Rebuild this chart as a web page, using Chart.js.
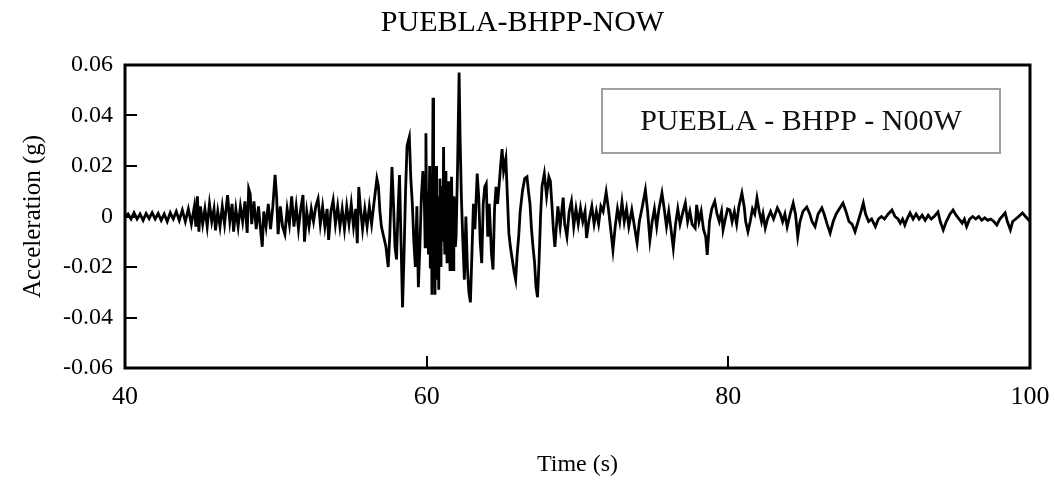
<!DOCTYPE html>
<html>
<head>
<meta charset="utf-8">
<script src="https://cdn.jsdelivr.net/npm/chart.js@4/dist/chart.umd.min.js"></script>
<style>
  html, body { margin: 0; padding: 0; background: #fff; }
  #wrap { width: 1055px; height: 482px; }
</style>
</head>
<body>
<div id="wrap"><canvas id="chart" width="1055" height="482"></canvas></div>
<script>
// record, [time (s), acceleration (g)]
const preEvent = [
  [40.0, 0], [40.2, 0.001], [40.4, -0.001], [40.6, 0.0015], [40.8, -0.001], [41.0, 0.001],
  [41.2, -0.0015], [41.4, 0.0012], [41.6, -0.0008], [41.8, 0.0015], [42.0, -0.001], [42.2, 0.0012],
  [42.4, -0.0015], [42.6, 0.001], [42.8, -0.002], [43.0, 0.0015], [43.2, -0.001], [43.4, 0.002],
  [43.6, -0.0015], [43.8, 0.0025], [44.0, -0.002], [44.2, 0.003], [44.4, -0.003], [44.6, 0.004],
  [44.7, -0.004], [44.8, 0.008], [44.9, -0.006], [45.0, 0.004], [45.15, -0.003], [45.3, 0.003],
  [45.45, -0.004], [45.6, 0.005], [45.75, -0.002], [45.9, 0.003], [46.0, -0.0055], [46.15, 0.002],
  [46.3, -0.004], [46.45, 0.004], [46.6, -0.003], [46.8, 0.0085], [46.95, -0.002], [47.1, 0.005],
  [47.2, -0.006], [47.35, 0.003], [47.5, -0.004], [47.65, 0.004], [47.8, -0.002], [47.95, 0.006],
  [48.1, -0.0065], [48.2, 0.011], [48.3, 0.009], [48.4, -0.003], [48.55, 0.006], [48.7, -0.005],
  [48.85, 0.004], [49.0, -0.006], [49.1, -0.012], [49.2, 0.002], [49.35, -0.004], [49.5, 0.005],
  [49.65, -0.005], [49.8, 0.004], [49.95, 0.0165], [50.05, 0.008], [50.15, -0.007], [50.3, 0.004],
  [50.45, -0.004], [50.6, -0.007], [50.75, 0.003], [50.9, -0.003], [51.05, 0.008], [51.2, -0.004],
  [51.35, 0.004], [51.5, -0.005], [51.65, 0.003], [51.8, 0.0085], [51.9, -0.010], [52.05, 0.002],
  [52.2, -0.004], [52.35, 0.003], [52.5, -0.002], [52.65, 0.004], [52.8, 0.007], [52.95, -0.003],
  [53.1, 0.004], [53.25, -0.004], [53.4, 0.003], [53.5, -0.0093], [53.65, 0.002], [53.8, 0.0065],
  [53.95, -0.003], [54.1, 0.004], [54.25, -0.004], [54.4, 0.003], [54.55, -0.005], [54.7, 0.004],
  [54.85, -0.003], [55.0, 0.005], [55.15, -0.004], [55.3, 0.003], [55.4, -0.0106], [55.5, 0.0117],
  [55.6, 0.004], [55.75, -0.005], [55.9, 0.003], [56.05, -0.004], [56.2, 0.004], [56.35, -0.003],
  [56.5, 0.005], [56.7, 0.015], [56.8, 0.012], [56.9, 0.002], [57.0, -0.004], [57.15, -0.008],
  [57.3, -0.012]
];

const strongMotion = [
  [57.45, -0.020], [57.55, -0.008], [57.7, 0.0196], [57.8, 0.005], [57.9, -0.012], [58.0, -0.017],
  [58.1, 0.002], [58.2, 0.0164], [58.3, -0.010], [58.4, -0.036], [58.5, -0.015], [58.6, 0.01],
  [58.7, 0.028], [58.85, 0.0315], [58.95, 0.015], [59.05, 0.005], [59.15, -0.010], [59.25, -0.020],
  [59.35, 0.004], [59.45, -0.028], [59.55, -0.012], [59.65, 0.008], [59.75, 0.018], [59.85, 0.005],
  [59.9, -0.012], [59.95, 0.033], [60.0, -0.005], [60.05, 0.010], [60.12, -0.015], [60.2, 0.02],
  [60.24, -0.02], [60.27, -0.010], [60.31, 0.012], [60.35, -0.031], [60.42, 0.047], [60.46, -0.01],
  [60.5, 0.005], [60.55, -0.031], [60.58, 0.0], [60.62, 0.02], [60.66, -0.025], [60.7, -0.018],
  [60.75, 0.008], [60.8, -0.029], [60.84, 0.005], [60.88, 0.015], [60.92, -0.012], [60.95, -0.02],
  [61.0, 0.012], [61.05, 0.01], [61.08, -0.01], [61.12, 0.0275], [61.16, 0.0], [61.2, -0.015],
  [61.24, 0.018], [61.28, 0.008], [61.32, -0.01], [61.35, -0.018], [61.4, 0.006], [61.45, 0.014],
  [61.5, -0.008], [61.55, -0.021], [61.6, 0.004], [61.65, 0.0157], [61.7, -0.006], [61.75, -0.021],
  [61.8, 0.008], [61.85, 0.005], [61.9, -0.012], [61.95, -0.008], [62.05, 0.02], [62.15, 0.057],
  [62.22, 0.03], [62.3, 0.008], [62.4, -0.01], [62.5, -0.025], [62.6, 0.0], [62.7, -0.02],
  [62.8, -0.03], [62.9, -0.034], [63.0, -0.015], [63.1, 0.005], [63.2, -0.005], [63.35, 0.017],
  [63.45, 0.008], [63.55, -0.01], [63.65, -0.0185], [63.75, 0.005], [63.85, 0.0117], [63.95, 0.013],
  [64.05, -0.008], [64.15, 0.005], [64.3, -0.015], [64.4, -0.021], [64.5, 0.003], [64.6, 0.0117],
  [64.7, 0.005], [64.8, 0.012], [64.9, 0.02], [65.0, 0.0267], [65.1, 0.018], [65.25, 0.023],
  [65.35, 0.008], [65.45, -0.0066], [65.55, -0.012], [65.7, -0.018], [65.8, -0.022], [65.9, -0.025],
  [66.0, -0.015], [66.1, -0.008], [66.2, 0.002], [66.35, 0.01], [66.5, 0.015], [66.65, 0.0157],
  [66.75, 0.01], [66.85, 0.005], [66.95, -0.005], [67.05, -0.012], [67.15, -0.018], [67.25, -0.028],
  [67.35, -0.032], [67.45, -0.018], [67.55, 0.0], [67.65, 0.012], [67.8, 0.017], [67.95, 0.008],
  [68.1, 0.0157], [68.2, 0.014], [68.3, 0.005], [68.4, -0.005], [68.5, -0.012], [68.6, -0.004],
  [68.7, 0.004], [68.85, -0.004], [69.05, 0.0075], [69.15, -0.003], [69.3, -0.008], [69.45, 0.002],
  [69.6, 0.006], [69.75, -0.004], [69.9, 0.003]
];

const coda = [
  [70.05, -0.003], [70.2, 0.0034], [70.35, -0.002], [70.5, 0.002], [70.6, -0.0085], [70.75, -0.002],
  [70.95, 0.004], [71.1, -0.003], [71.25, 0.002], [71.4, -0.003], [71.55, 0.004], [71.7, 0.002],
  [71.9, 0.0097], [72.05, 0.003], [72.2, -0.005], [72.35, -0.0133], [72.5, -0.004], [72.65, 0.003],
  [72.8, -0.002], [72.95, 0.0057], [73.1, -0.002], [73.25, 0.003], [73.4, -0.004], [73.6, 0.0026],
  [73.75, -0.003], [73.95, -0.0105], [74.1, -0.002], [74.3, 0.004], [74.5, 0.0105], [74.65, 0.002],
  [74.8, -0.0093], [74.95, -0.002], [75.1, 0.003], [75.25, -0.004], [75.4, 0.003], [75.6, 0.0093],
  [75.75, 0.003], [75.9, -0.004], [76.05, 0.002], [76.2, -0.005], [76.35, -0.0125], [76.5, -0.003],
  [76.65, 0.003], [76.8, -0.003], [77.0, 0.002], [77.15, 0.0053], [77.3, -0.002], [77.45, 0.002],
  [77.6, -0.003], [77.8, -0.0046], [77.9, 0.0046], [78.05, -0.002], [78.2, 0.002], [78.35, -0.005],
  [78.5, -0.008], [78.6, -0.0152], [78.75, -0.002], [78.9, 0.003], [79.1, 0.006], [79.25, 0.001],
  [79.4, -0.002], [79.55, 0.002], [79.65, -0.0053], [79.8, -0.001], [79.95, 0.003], [80.1, 0.0026],
  [80.25, -0.002], [80.4, 0.002], [80.55, -0.003], [80.7, 0.004], [80.9, 0.0093], [81.05, 0.004],
  [81.15, -0.002], [81.3, -0.006], [81.45, -0.002], [81.6, 0.003], [81.75, 0.001], [81.9, 0.0073],
  [82.05, 0.002], [82.2, -0.002], [82.3, 0.001], [82.45, -0.0046], [82.6, -0.001], [82.8, 0.002],
  [83.0, -0.001], [83.25, 0.0034], [83.45, 0.001], [83.6, -0.002], [83.75, 0.001], [83.9, -0.0041],
  [84.1, 0.001], [84.3, 0.0053], [84.45, 0.001], [84.6, -0.008], [84.75, -0.002], [84.95, 0.002],
  [85.2, 0.0037], [85.4, 0.001], [85.55, -0.002], [85.75, -0.004], [85.95, 0.001], [86.2, 0.0034],
  [86.35, 0.001], [86.55, -0.003], [86.75, -0.0066], [86.95, -0.002], [87.15, 0.001], [87.35, 0.003],
  [87.6, 0.0053], [87.8, 0.002], [88.0, -0.002], [88.2, -0.003], [88.4, -0.006], [88.6, -0.002],
  [88.8, 0.002], [88.95, 0.0053], [89.1, 0.001], [89.3, -0.002], [89.5, -0.001], [89.75, -0.004],
  [89.95, -0.001], [90.15, 0.0], [90.35, -0.001], [90.6, 0.001], [90.85, 0.0026], [91.05, 0.0],
  [91.25, -0.001], [91.4, -0.0026], [91.55, -0.001], [91.7, -0.0034], [91.85, -0.001], [92.05, 0.0014],
  [92.25, -0.001], [92.45, 0.001], [92.65, -0.001], [92.85, 0.0005], [93.05, -0.0015], [93.25, 0.0005],
  [93.45, -0.001], [93.65, 0.0], [93.9, 0.0018], [94.05, -0.002], [94.25, -0.0053], [94.45, -0.002],
  [94.7, 0.001], [94.9, 0.0026], [95.1, 0.0005], [95.3, -0.001], [95.5, -0.0026], [95.65, -0.001],
  [95.8, -0.004], [96.0, -0.001], [96.2, 0.0], [96.4, -0.001], [96.6, 0.0], [96.8, -0.0015],
  [97.0, -0.0005], [97.2, -0.0015], [97.4, -0.001], [97.6, -0.002], [97.8, -0.0034], [98.0, -0.001],
  [98.15, 0.0], [98.35, 0.0014], [98.5, -0.002], [98.7, -0.0053], [98.85, -0.002], [99.05, -0.001],
  [99.25, 0.0], [99.5, 0.0014], [99.7, 0.0], [99.9, -0.0013], [100.0, -0.002]
];

const timeTicks = [40, 60, 80, 100];
const accelTicks = [-0.06, -0.04, -0.02, 0, 0.02, 0.04, 0.06];

const serif = "'Liberation Serif', 'Times New Roman', serif";
const record = preEvent.concat(strongMotion, coda).map(p => ({ x: p[0], y: p[1] }));

// frame, inward tick marks and the boxed label inside the plot
const framePlugin = {
  id: 'frame',
  afterDraw(chart) {
    const { ctx, chartArea: a, scales } = chart;
    ctx.save();
    ctx.strokeStyle = '#000';
    ctx.lineWidth = 2;
    ctx.beginPath();
    timeTicks.slice(1, -1).forEach(t => {
      const x = Math.round(scales.x.getPixelForValue(t));
      ctx.moveTo(x, a.bottom);
      ctx.lineTo(x, a.bottom - 12);
    });
    accelTicks.slice(1, -1).forEach(v => {
      const y = Math.round(scales.y.getPixelForValue(v));
      ctx.moveTo(a.left, y);
      ctx.lineTo(a.left + 12, y);
    });
    ctx.stroke();

    ctx.lineWidth = 3;
    ctx.strokeRect(a.left, a.top, a.right - a.left, a.bottom - a.top);

    const bx = a.left + 477, by = a.top + 24, bw = 398, bh = 64;
    ctx.lineWidth = 2;
    ctx.strokeStyle = '#a0a0a0';
    ctx.strokeRect(bx, by, bw, bh);
    ctx.fillStyle = '#111';
    ctx.font = '30px ' + serif;
    ctx.textAlign = 'center';
    ctx.textBaseline = 'middle';
    ctx.fillText(chart.data.datasets[0].label, bx + bw / 2, by + bh / 2 + 1);
    ctx.restore();
  }
};

new Chart(document.getElementById('chart'), {
  type: 'line',
  data: {
    datasets: [{
      label: 'PUEBLA - BHPP - N00W',
      data: record,
      borderColor: '#000',
      borderWidth: 2.8,
      pointRadius: 0,
      tension: 0,
      fill: false
    }]
  },
  options: {
    responsive: false,
    animation: false,
    layout: { padding: { left: 15, right: 25, top: 0, bottom: 0 } },
    plugins: {
      legend: { display: false },
      tooltip: { enabled: false },
      title: {
        display: true,
        text: 'PUEBLA-BHPP-NOW',
        color: '#000',
        font: { family: serif, size: 30, weight: 'normal' },
        padding: { top: 5, bottom: 24 }
      }
    },
    scales: {
      x: {
        type: 'linear',
        min: 40,
        max: 100,
        afterBuildTicks: s => { s.ticks = timeTicks.map(v => ({ value: v })); },
        afterFit: s => { s.height = 114; s.paddingLeft = 0; s.paddingRight = 0; },
        grid: { display: false, drawTicks: false },
        border: { display: false },
        ticks: { color: '#000', padding: 14, font: { family: serif, size: 26 }, maxRotation: 0 },
        title: {
          display: true,
          text: 'Time (s)',
          color: '#000',
          font: { family: serif, size: 24 },
          padding: { top: 0, bottom: 3 }
        }
      },
      y: {
        min: -0.06,
        max: 0.06,
        afterBuildTicks: s => { s.ticks = accelTicks.map(v => ({ value: v })); },
        afterFit: s => { s.width = 110; },
        grid: { display: false, drawTicks: false },
        border: { display: false },
        ticks: {
          color: '#000',
          padding: 12,
          font: { family: serif, size: 24 },
          callback: v => Math.abs(v) < 1e-9 ? '0' : v.toFixed(2)
        },
        title: {
          display: true,
          text: 'Acceleration (g)',
          color: '#000',
          font: { family: serif, size: 25 },
          padding: { top: 3, bottom: 0 }
        }
      }
    }
  },
  plugins: [framePlugin]
});
</script>
</body>
</html>
